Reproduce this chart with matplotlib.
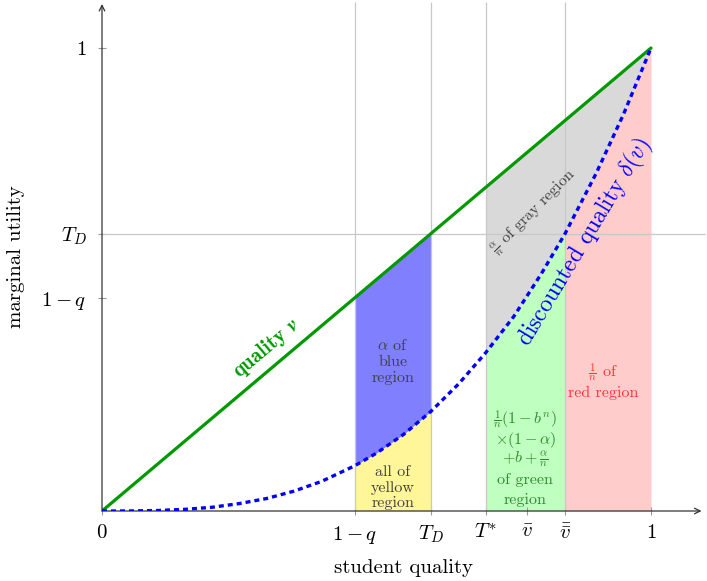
import matplotlib.pyplot as plt
import numpy as np

plt.rcParams['mathtext.fontset'] = 'cm'
plt.rcParams['font.family'] = 'cmr10'
plt.rcParams['axes.unicode_minus'] = False

# cutoffs on the quality axis
one_minus_q = 0.461
t_d = 0.599
t_star = 0.699
v_bar = 0.774
v_bbar = 0.843

# quality line v
quality_x = [0, 1]
quality_y = [0, 1]

# discounted quality delta(v)
curve_x = np.array([0, 0.05, 0.1, 0.15, 0.2, 0.25, 0.3, 0.35, 0.4, 0.461, 0.5,
                    0.55, 0.599, 0.65, 0.699, 0.75, 0.8, 0.843, 0.9, 0.95, 1.0])
curve_y = np.array([0, 0.0001, 0.001, 0.0035, 0.008, 0.016, 0.027, 0.043, 0.064, 0.098, 0.125,
                    0.166, 0.215, 0.275, 0.342, 0.42, 0.512, 0.598, 0.729, 0.857, 1.0])

xtick_vals = [0, one_minus_q, t_d, t_star, v_bar, v_bbar, 1]
xtick_labels = [r'$0$', r'$1-q$', r'$T_D$', r'$T^{*}$', r'$\bar{v}$', r'$\bar{\bar{v}}$', r'$1$']
ytick_vals = [one_minus_q, t_d, 1]
ytick_labels = [r'$1-q$', r'$T_D$', r'$1$']

fig = plt.figure(figsize=(7.07, 5.81), dpi=100)
ax = fig.add_axes([102 / 707, 70 / 581, 1.1 * 549 / 707, 1.1 * 463 / 581])
ax.set_xlim(0, 1.1)
ax.set_ylim(0, 1.1)
for s in ax.spines.values():
    s.set_visible(False)

# shaded regions
blue_part = (curve_x >= one_minus_q) & (curve_x <= t_d)
ax.fill_between(curve_x, curve_y, curve_x, where=blue_part, color='#8080ff', lw=0, zorder=1)
ax.fill_between(curve_x, 0, curve_y, where=blue_part, color='#fff599', lw=0, zorder=1)
ax.fill_between(curve_x, curve_y, curve_x, where=curve_x >= t_star, color='#d9d9d9', lw=0, zorder=1)
ax.fill_between(curve_x, 0, curve_y, where=(curve_x >= t_star) & (curve_x <= v_bbar),
                color='#bfffbf', lw=0, zorder=1)
ax.fill_between(curve_x, 0, curve_y, where=curve_x >= v_bbar, color='#ffcccc', lw=0, zorder=1)

# grid lines
ax.vlines([one_minus_q, t_d, t_star, v_bbar], 0, 1.1, color='#c8c8c8', lw=0.9, zorder=2)
ax.hlines(t_d, 0, 1.1, color='#c8c8c8', lw=0.9, zorder=2)

# curves
ax.plot(quality_x, quality_y, color='#009900', lw=2.3, zorder=4, solid_capstyle='round')
ax.plot(curve_x, curve_y, color='#0000ff', lw=2.4, dashes=(1.5, 1.2), zorder=5)

# axes with arrows
arrow = dict(arrowstyle='->', color='#333333', lw=0.9, shrinkA=0, shrinkB=0)
ax.annotate('', xy=(1.092, 0), xytext=(0, 0), arrowprops=arrow, annotation_clip=False)
ax.annotate('', xy=(0, 1.095), xytext=(0, 0), arrowprops=arrow, annotation_clip=False)

ax.set_xticks(xtick_vals, xtick_labels)
ax.set_yticks(ytick_vals, ytick_labels)
ax.tick_params(direction='inout', length=6, width=0.8, color='#999999', labelsize=15)
ax.tick_params(axis='x', pad=6)
ax.tick_params(axis='y', pad=8)
ax.set_xlabel('student quality', fontsize=15, labelpad=10)
ax.set_ylabel('marginal utility', fontsize=15, labelpad=12)

# annotations
ax.text(0.299, 0.352, r'quality $\mathbfit{v}$', rotation=40.2, rotation_mode='anchor',
        ha='center', va='center', color='#009900', fontsize=15, fontfamily='cmb10')
ax.text(0.880, 0.580, r'discounted quality $\delta(v)$', rotation=59, rotation_mode='anchor',
        ha='center', va='center', color='#0000ff', fontsize=17)
ax.text(0.787, 0.646, r'$\frac{\alpha}{n}$ of gray region', rotation=45, rotation_mode='anchor',
        ha='center', va='center', color='#404040', fontsize=11.5)
ax.text(0.530, 0.322, '$\\alpha$ of\nblue\nregion', ha='center', va='center',
        color='#404040', fontsize=11.5, linespacing=1.2)
ax.text(0.530, 0.050, 'all of\nyellow\nregion', ha='center', va='center',
        color='#404040', fontsize=11.5, linespacing=1.15)

green_lines = [r'$\frac{1}{n}(1-b^n)$', r'$\times(1-\alpha)$', r'$+b+\frac{\alpha}{n}$',
               'of green', 'region']
green_y = [0.1965, 0.1533, 0.1123, 0.0670, 0.0238]
for line, yy in zip(green_lines, green_y):
    ax.text(0.771, yy, line, ha='center', va='center', color='#2e8b2e', fontsize=11.5)

ax.text(0.913, 0.298, r'$\frac{1}{n}$ of', ha='center', va='center', color='#ff3333', fontsize=11.5)
ax.text(0.913, 0.255, 'red region', ha='center', va='center', color='#ff3333', fontsize=11.5)

fig.savefig('out.png', dpi=100)
